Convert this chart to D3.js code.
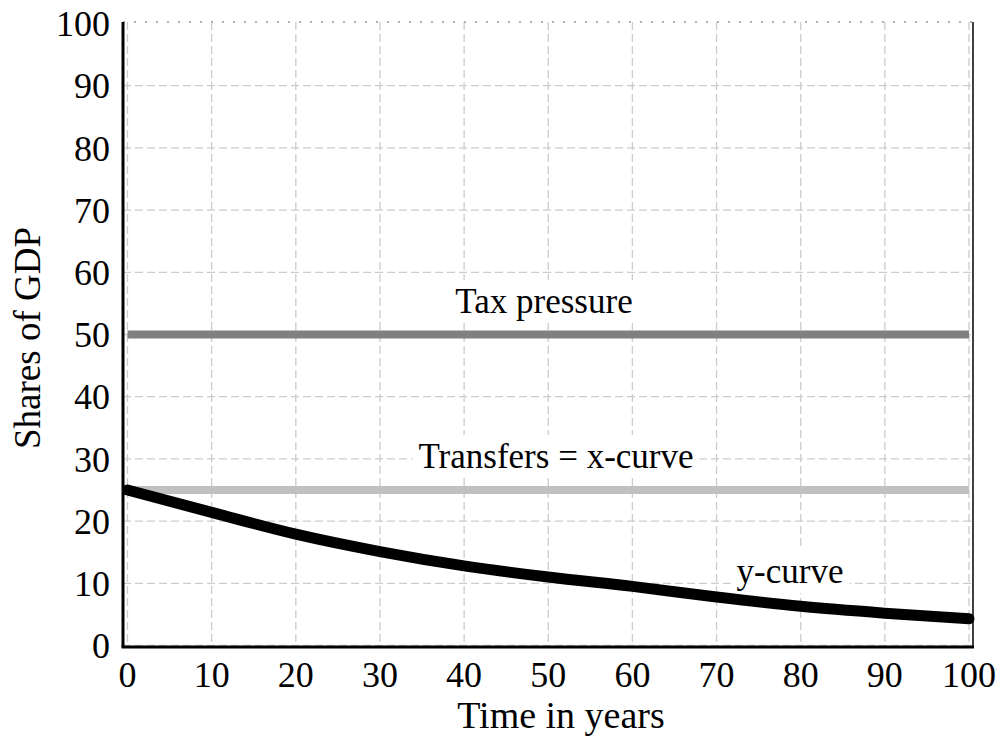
<!DOCTYPE html>
<html>
<head>
<meta charset="utf-8">
<script src="https://cdn.jsdelivr.net/npm/d3@7"></script>
<style>
  body { margin: 0; background: #fff; }
  svg { display: block; font-family: "Liberation Serif", "Times New Roman", serif; }
</style>
</head>
<body>
<div id="chart"></div>
<script>
// Dados
const years = [0, 10, 20, 30, 40, 50, 60, 70, 80, 90, 100];
const yCurve = [25, 21.4, 17.9, 15.1, 12.8, 11.0, 9.5, 7.8, 6.3, 5.2, 4.3];
const taxPressure = [50, 50];
const transfers = [25, 25];
const lineYears = [0, 100];
const xTicks = [0, 10, 20, 30, 40, 50, 60, 70, 80, 90, 100];
const yTicks = [0, 10, 20, 30, 40, 50, 60, 70, 80, 90, 100];

const width = 1000;
const height = 738;
const frame = { left: 123, right: 973, top: 22, bottom: 647 };

const svg = d3.select("#chart")
    .append("svg")
    .attr("width", width)
    .attr("height", height);

const x = d3.scaleLinear().domain([0, 100]).range([127.5, 969]);
const y = d3.scaleLinear().domain([0, 100]).range([645.5, 23.5]);

// Grade tracejada
svg.append("g")
    .selectAll("line")
    .data(xTicks)
    .join("line")
    .attr("x1", d => x(d)).attr("x2", d => x(d))
    .attr("y1", frame.top).attr("y2", frame.bottom)
    .attr("stroke", "#cccccc")
    .attr("stroke-width", 1.3)
    .attr("stroke-dasharray", "8,4");

svg.append("g")
    .selectAll("line")
    .data(yTicks.filter(d => d < 100))
    .join("line")
    .attr("x1", frame.left).attr("x2", frame.right)
    .attr("y1", d => y(d)).attr("y2", d => y(d))
    .attr("stroke", "#cccccc")
    .attr("stroke-width", 1.3)
    .attr("stroke-dasharray", "8,4");

// Moldura: topo pontilhado, direita fina
svg.append("line")
    .attr("x1", frame.left).attr("x2", frame.right)
    .attr("y1", frame.top).attr("y2", frame.top)
    .attr("stroke", "#999")
    .attr("stroke-width", 1.5)
    .attr("stroke-dasharray", "2,9");
svg.append("line")
    .attr("x1", frame.right).attr("x2", frame.right)
    .attr("y1", frame.top).attr("y2", frame.bottom)
    .attr("stroke", "#000")
    .attr("stroke-width", 1.5);

// Rótulos com fundo branco
function label(text, cx, baseline) {
    const g = svg.append("g");
    const t = g.append("text")
        .attr("x", cx)
        .attr("y", baseline)
        .attr("text-anchor", "middle")
        .attr("font-size", 35)
        .attr("fill", "#000")
        .text(text);
    const b = t.node().getBBox();
    g.insert("rect", "text")
        .attr("x", b.x - 6)
        .attr("y", b.y - 2)
        .attr("width", b.width + 12)
        .attr("height", b.height + 4)
        .attr("fill", "#fff");
}

label("Tax pressure", 544, 313);
label("Transfers = x-curve", 556, 468);
label("y-curve", 790, 583);

// Linhas
const line = d3.line()
    .x(d => x(d[0]))
    .y(d => y(d[1]));

svg.append("path")
    .datum(lineYears.map((t, i) => [t, taxPressure[i]]))
    .attr("fill", "none")
    .attr("stroke", "#808080")
    .attr("stroke-width", 8)
    .attr("d", line);

svg.append("path")
    .datum(lineYears.map((t, i) => [t, transfers[i]]))
    .attr("fill", "none")
    .attr("stroke", "#c0c0c0")
    .attr("stroke-width", 8)
    .attr("d", line);

svg.append("path")
    .datum(years.map((t, i) => [t, yCurve[i]]))
    .attr("fill", "none")
    .attr("stroke", "#000")
    .attr("stroke-width", 11)
    .attr("stroke-linecap", "round")
    .attr("d", line.curve(d3.curveMonotoneX));

// Eixos
svg.append("line")
    .attr("x1", frame.left).attr("x2", frame.left)
    .attr("y1", frame.top).attr("y2", frame.bottom)
    .attr("stroke", "#000")
    .attr("stroke-width", 3);
svg.append("line")
    .attr("x1", frame.left - 1.5).attr("x2", frame.right + 1)
    .attr("y1", frame.bottom).attr("y2", frame.bottom)
    .attr("stroke", "#000")
    .attr("stroke-width", 3);

svg.append("g")
    .selectAll("text")
    .data(yTicks)
    .join("text")
    .attr("x", 110)
    .attr("y", d => y(d))
    .attr("dy", "0.35em")
    .attr("text-anchor", "end")
    .attr("font-size", 36)
    .text(d => d);

svg.append("g")
    .selectAll("text")
    .data(xTicks)
    .join("text")
    .attr("x", d => x(d))
    .attr("y", 687)
    .attr("text-anchor", "middle")
    .attr("font-size", 36)
    .text(d => d);

svg.append("text")
    .attr("x", 561)
    .attr("y", 728)
    .attr("text-anchor", "middle")
    .attr("font-size", 38)
    .text("Time in years");

svg.append("text")
    .attr("transform", "translate(40,338) rotate(-90)")
    .attr("text-anchor", "middle")
    .attr("font-size", 37)
    .text("Shares of GDP");
</script>
</body>
</html>
